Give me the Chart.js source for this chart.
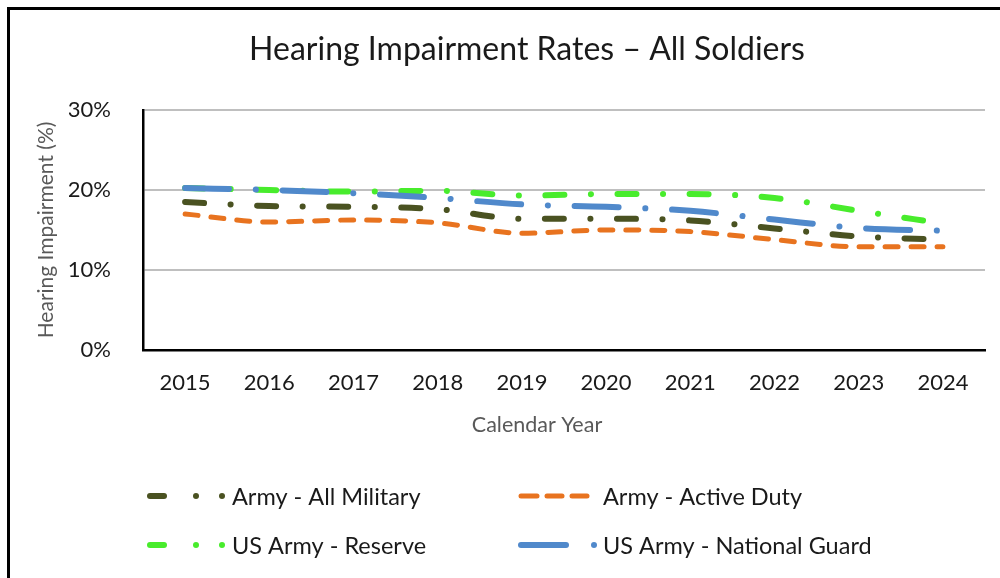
<!DOCTYPE html>
<html>
<head>
<meta charset="utf-8">
<script src="https://cdn.jsdelivr.net/npm/chart.js@4.4.1/dist/chart.umd.min.js"></script>
<style>
  html, body { margin: 0; padding: 0; background: #fff; }
  #wrap { position: relative; width: 1000px; height: 578px; overflow: hidden; }
  #frame { position: absolute; left: 7px; top: 7px; width: 1010px; height: 600px;
           border-left: 3px solid #000; border-top: 3px solid #000; box-sizing: border-box; pointer-events: none; }
  canvas { position: absolute; left: 0; top: 0; }
</style>
</head>
<body>
<div id="wrap">
  <canvas id="c" width="1000" height="578"></canvas>
  <div id="frame"></div>
</div>
<script>
// ---- data ----
const years = ['2015','2016','2017','2018','2019','2020','2021','2022','2023','2024'];
const allMilitary   = [18.5, 18.0, 17.9, 17.6, 16.4, 16.4, 16.2, 15.2, 14.2, 13.8];
const activeDuty    = [17.0, 16.0, 16.25, 15.9, 14.6, 15.0, 14.8, 13.8, 12.9, 12.9];
const reserve       = [20.25, 20.0, 19.8, 19.9, 19.3, 19.5, 19.5, 19.0, 17.4, 15.8];
const nationalGuard = [20.25, 20.0, 19.6, 19.0, 18.2, 17.9, 17.4, 16.3, 15.25, 14.9];
const seriesNames = ['Army - All Military', 'Army - Active Duty', 'US Army - Reserve', 'US Army - National Guard'];
const yTicks = [0, 10, 20, 30];
const chartTitle = 'Hearing Impairment Rates \u2013 All Soldiers';
const yTitle = 'Hearing Impairment (%)';
const xTitle = 'Calendar Year';

const FONT = 'Lato, "Open Sans", sans-serif';
const colors = ['#4A5221', '#E8731F', '#48EC2C', '#5089CB'];

// legend plugin (draws samples + labels on the canvas)
const legendPlugin = {
  id: 'customLegend',
  afterDraw(chart) {
    const ctx = chart.ctx;
    ctx.save();
    // x axis title
    ctx.fillStyle = '#595959';
    ctx.font = '21.5px ' + FONT;
    ctx.textAlign = 'center';
    ctx.textBaseline = 'middle';
    ctx.fillText(xTitle, 537, 425);

    const ds = chart.data.datasets;
    const items = [
      {i: 0, x: 147, y: 496, textX: 232},
      {i: 1, x: 518, y: 496, textX: 603},
      {i: 2, x: 147, y: 545, textX: 232},
      {i: 3, x: 518, y: 545, textX: 603}
    ];
    ctx.lineCap = 'round';
    items.forEach(it => {
      const d = ds[it.i];
      ctx.strokeStyle = d.borderColor;
      ctx.fillStyle = d.borderColor;
      ctx.lineWidth = d.borderWidth;
      const seg = (a, b) => { ctx.beginPath(); ctx.moveTo(a, it.y); ctx.lineTo(b, it.y); ctx.stroke(); };
      const dot = (cx) => { ctx.beginPath(); ctx.arc(cx, it.y, d.borderWidth / 2, 0, Math.PI * 2); ctx.fill(); };
      if (it.i === 0 || it.i === 2) {
        seg(it.x + 3, it.x + 17); dot(it.x + 49); dot(it.x + 75);
      } else if (it.i === 1) {
        seg(it.x + 3, it.x + 19); seg(it.x + 29, it.x + 44); seg(it.x + 54, it.x + 69);
      } else {
        seg(it.x + 3, it.x + 48); dot(it.x + 76);
      }
      ctx.fillStyle = '#1a1a1a';
      ctx.font = '23.5px ' + FONT;
      ctx.textAlign = 'left';
      ctx.textBaseline = 'middle';
      ctx.fillText(d.label, it.textX, it.y + 1);
    });
    ctx.restore();
  }
};

new Chart(document.getElementById('c'), {
  type: 'line',
  data: {
    labels: years,
    datasets: [
      { label: seriesNames[0], data: allMilitary, borderColor: colors[0], backgroundColor: colors[0],
        borderWidth: 6, borderDash: [19, 26.5, 0.1, 26.5], borderCapStyle: 'round', order: 2 },
      { label: seriesNames[1], data: activeDuty, borderColor: colors[1], backgroundColor: colors[1],
        borderWidth: 5, borderDash: [13, 13], borderCapStyle: 'round', order: 3 },
      { label: seriesNames[2], data: reserve, borderColor: colors[2], backgroundColor: colors[2],
        borderWidth: 6, borderDash: [19, 26.5, 0.1, 26.5], borderCapStyle: 'round', order: 4 },
      { label: seriesNames[3], data: nationalGuard, borderColor: colors[3], backgroundColor: colors[3],
        borderWidth: 6, borderDash: [44, 26.7, 0.1, 26.7], borderCapStyle: 'round', order: 1 }
    ]
  },
  options: {
    responsive: false,
    animation: false,
    events: [],
    elements: { point: { radius: 0, hoverRadius: 0 }, line: { tension: 0.35, cubicInterpolationMode: 'monotone' } },
    layout: { padding: { left: 69, right: 15, top: 0, bottom: 0 } },
    plugins: {
      legend: { display: false },
      tooltip: { enabled: false },
      title: {
        display: true,
        text: chartTitle,
        color: '#1a1a1a',
        font: { family: FONT, size: 32, weight: 'normal', lineHeight: 1.2 },
        padding: { top: 30.8, bottom: 40.8 }
      }
    },
    scales: {
      x: {
        offset: true,
        grid: { display: false, drawTicks: false },
        border: { display: true, color: '#000', width: 2.5 },
        ticks: { color: '#1a1a1a', font: { family: FONT, size: 22 }, padding: 20, maxRotation: 0, autoSkip: false },
        afterFit(s) { s.height = 578 - 350; }
      },
      y: {
        min: 0, max: 30,
        afterBuildTicks(s) { s.ticks = yTicks.map(v => ({ value: v })); },
        grid: { color: '#BFBFBF', lineWidth: 2, drawTicks: false },
        border: { display: true, color: '#000', width: 2.5 },
        ticks: { color: '#1a1a1a', font: { family: FONT, size: 22 }, padding: 32, callback: v => v + '%' },
        title: {
          display: true, text: yTitle, color: '#595959',
          font: { family: FONT, size: 21 }, padding: { top: -35.6, bottom: 0 }
        },
        afterFit(s) { s.width = 143 - 69; }
      }
    }
  },
  plugins: [legendPlugin]
});
</script>
</body>
</html>
